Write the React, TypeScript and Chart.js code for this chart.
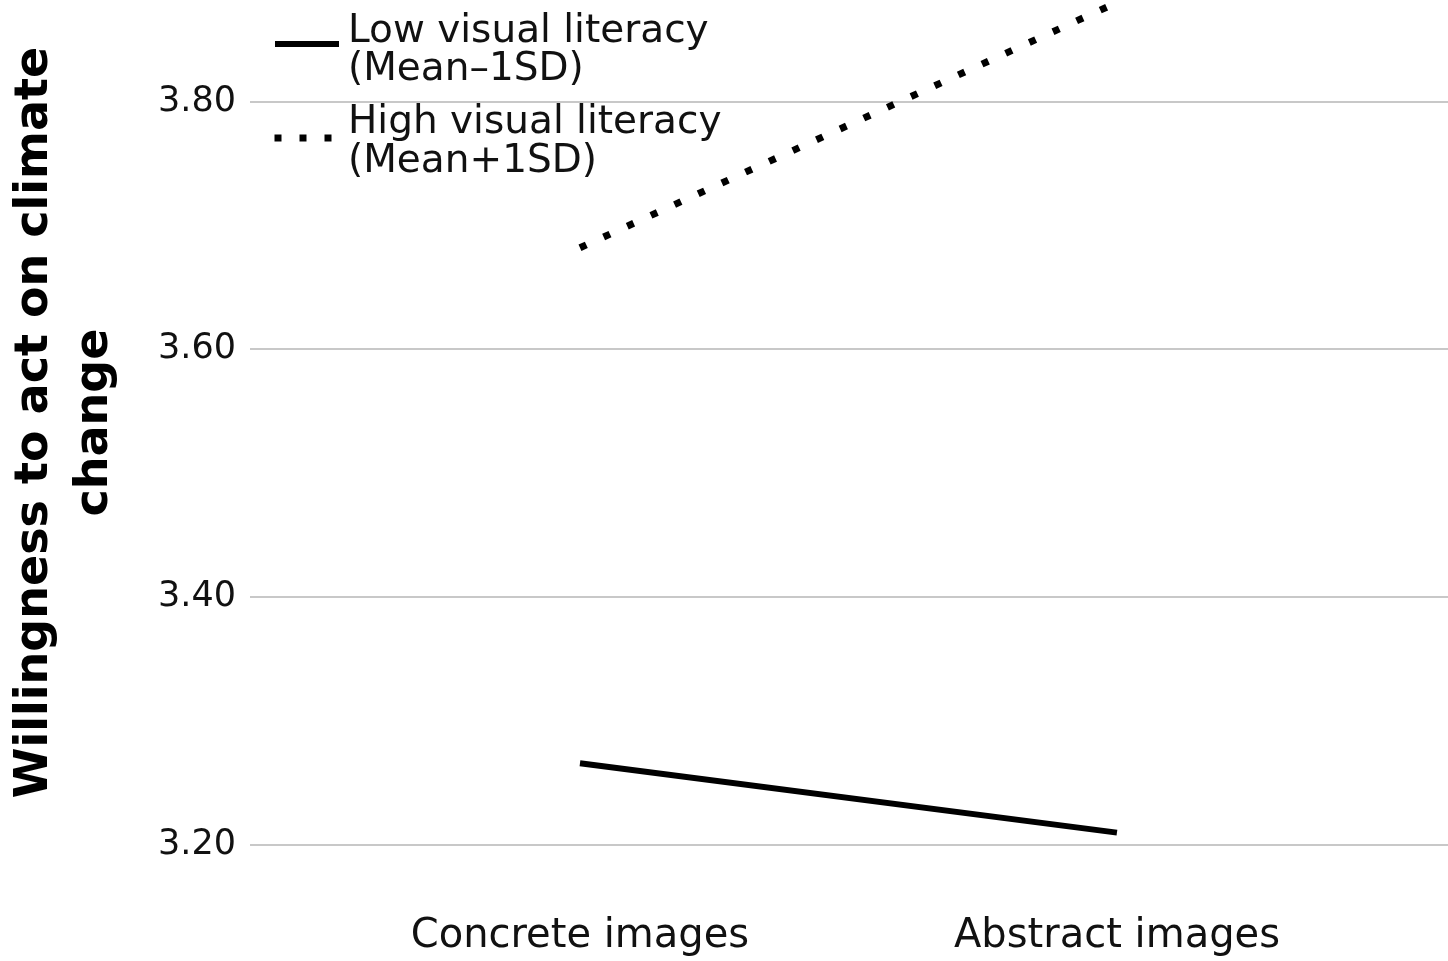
import { useEffect, useRef } from "react";
import { Chart, registerables } from "chart.js";

Chart.register(...registerables);

const categories = ["Concrete images", "Abstract images"];
const lowLiteracy = [3.266, 3.21];
const highLiteracy = [3.682, 3.88];
const yTicks = [3.2, 3.4, 3.6, 3.8];
const lowLabel = ["Low visual literacy", "(Mean–1SD)"];
const highLabel = ["High visual literacy", "(Mean+1SD)"];
const yTitle = ["Willingness to act on climate", "change"];

const FONT = "'DejaVu Sans', 'Liberation Sans', sans-serif";

export default function App() {
  const ref = useRef<HTMLCanvasElement>(null);

  useEffect(() => {
    document.body.style.margin = "0";
    const canvas = ref.current;
    if (!canvas) return;

    const legendPlugin = {
      id: "customLegend",
      afterDraw(chart: any) {
        const c = chart.ctx as CanvasRenderingContext2D;
        c.save();
        c.fillStyle = "#111";
        c.font = `39px ${FONT}`;
        c.textBaseline = "middle";
        c.textAlign = "left";
        const blocks = [
          { lines: lowLabel, ys: [32, 70] },
          { lines: highLabel, ys: [123, 162] },
        ];
        blocks.forEach((b) => b.lines.forEach((t, j) => c.fillText(t, 348, b.ys[j])));
        // solid marker
        c.strokeStyle = "#000";
        c.lineWidth = 6;
        c.lineCap = "butt";
        c.beginPath();
        c.moveTo(275, 44);
        c.lineTo(339, 44);
        c.stroke();
        // dotted marker
        c.fillStyle = "#000";
        [278, 303, 328].forEach((x) => c.fillRect(x - 3.5, 134.5, 7, 7));
        c.restore();
      },
    };

    const chart = new Chart(canvas, {
      type: "line",
      data: {
        datasets: [
          {
            label: lowLabel.join(" "),
            data: lowLiteracy.map((v, i) => ({ x: i, y: v })),
            borderColor: "#000",
            borderWidth: 6,
            borderCapStyle: "butt",
            pointRadius: 0,
            fill: false,
            tension: 0,
          },
          {
            label: highLabel.join(" "),
            data: highLiteracy.map((v, i) => ({ x: i, y: v })),
            borderColor: "#000",
            borderWidth: 7,
            borderDash: [7, 19],
            borderCapStyle: "butt",
            pointRadius: 0,
            fill: false,
            tension: 0,
          },
        ],
      },
      options: {
        animation: false,
        responsive: true,
        maintainAspectRatio: false,
        layout: { padding: 0 },
        plugins: {
          legend: { display: false },
          tooltip: { enabled: false },
        },
        scales: {
          x: {
            type: "linear",
            min: -0.6145,
            max: 1.6165,
            grid: { display: false, drawTicks: false },
            border: { display: false },
            afterBuildTicks: (s: any) => {
              s.ticks = categories.map((_, i) => ({ value: i }));
            },
            afterFit: (s: any) => {
              s.height = 116;
              s.paddingLeft = 0;
              s.paddingRight = 0;
            },
            ticks: {
              autoSkip: false,
              maxRotation: 0,
              padding: 68,
              color: "#111",
              font: { family: FONT, size: 40 },
              callback: (v: any) => categories[Number(v)] ?? "",
            },
          },
          y: {
            type: "linear",
            min: 3.2,
            max: 3.882,
            grid: { color: "#c8c8c8", lineWidth: 2, drawTicks: false },
            border: { display: false },
            afterBuildTicks: (s: any) => {
              s.ticks = yTicks.map((v) => ({ value: v }));
            },
            afterFit: (s: any) => {
              s.width = 250;
              s.paddingTop = 0;
              s.paddingBottom = 0;
            },
            ticks: {
              padding: 14,
              color: "#111",
              font: { family: FONT, size: 35 },
              callback: (v: any) => Number(v).toFixed(2),
            },
            title: {
              display: true,
              text: yTitle,
              color: "#000",
              padding: { top: 5, bottom: 0 },
              font: { family: FONT, size: 46, weight: "bold", lineHeight: 1.3 },
            },
          },
        },
      },
      plugins: [legendPlugin],
    } as any);

    return () => chart.destroy();
  }, []);

  return (
    <div style={{ width: 1448, height: 961, position: "relative", background: "#fff" }}>
      <canvas ref={ref} />
    </div>
  );
}
